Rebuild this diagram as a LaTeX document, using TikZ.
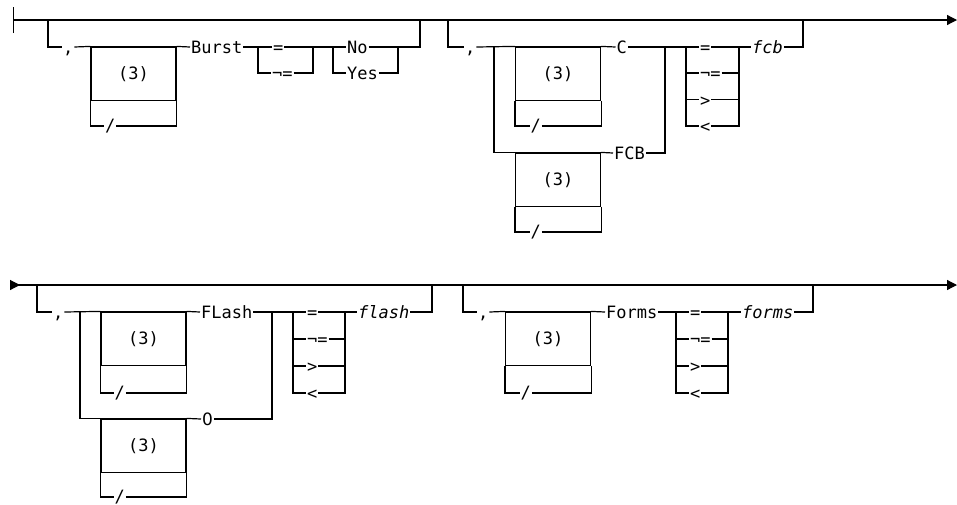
\documentclass[tikz,border=0pt]{standalone}
\usepackage{fontspec}
\setmonofont{DejaVu Sans Mono}
\newfontfamily\plainzero{DejaVu Sans}
\usetikzlibrary{arrows.meta}

\tikzset{
    rail/.style={line width=1.2pt},
    lbl/.style={anchor=west, inner sep=0.5pt, text height=13pt, text depth=0pt,
        font=\ttfamily\fontsize{17}{17}\selectfont},
    sep/.style={lbl, text height=11pt},
    var/.style={lbl, font=\ttfamily\itshape\fontsize{17}{17}\selectfont},
    rep/.style={draw, line width=1.2pt, minimum width=85pt, minimum height=53.5pt,
        inner sep=0pt, font=\ttfamily\fontsize{17}{17}\selectfont}
}

\begin{document}
\begin{tikzpicture}[x=1pt, y=-1pt, rail]
    \useasboundingbox (0,0) rectangle (957,504);
    % first line
    \coordinate (start1) at (13,20);
    \coordinate (end1) at (957,20);
    \draw[{Bar[width=26pt]}-{Triangle[length=10pt,width=10pt]}] (start1) -- (end1);

    % Burst
    \coordinate (in1) at (48,20);
    \coordinate (out1) at (420,20);
    \node[lbl] (cm1) at (62,47) {,};
    \node[rep] (rep1) at (133.5,73.75) {(3)};
    \node[sep] (sl1) at (104,126) {/};
    \node[lbl] (burst) at (190,47) {Burst};
    \coordinate (eq1l) at (258,47);
    \coordinate (eq1r) at (313,47);
    \node[lbl] (eq1) at (272,47) {=};
    \node[lbl] (ne1) at (271,73) {¬=};
    \coordinate (yn1l) at (333,47);
    \coordinate (yn1r) at (398,47);
    \node[lbl] (no) at (346,47) {No};
    \node[lbl] (yes) at (346,73) {Yes};
    \draw (in1) |- (cm1.west);
    \draw (cm1.east) -- (rep1.north west);
    \draw (rep1.south west) |- (sl1.west);
    \draw (sl1.east) -| (rep1.south east);
    \draw (rep1.north east) -- (burst.west);
    \draw (burst.east) -- (eq1.west);
    \draw (eq1.east) -- (no.west);
    \draw (eq1l) |- (ne1.west);
    \draw (ne1.east) -| (eq1r);
    \draw (yn1l) |- (yes.west);
    \draw (yes.east) -| (yn1r);
    \draw (no.east) -| (out1);

    % C / FCB
    \coordinate (in2) at (448,20);
    \coordinate (out2) at (803,20);
    \node[lbl] (cm2) at (464,47) {,};
    \coordinate (cf2l) at (494,47);
    \coordinate (cf2r) at (665,47);
    \node[rep] (rep2) at (558,73.75) {(3)};
    \node[sep] (sl2) at (529.5,126) {/};
    \node[lbl] (c) at (615.5,47) {C};
    \node[rep] (rep3) at (558,179.75) {(3)};
    \node[sep] (sl3) at (529.5,232) {/};
    \node[lbl] (fcbkw) at (613,153) {FCB};
    \coordinate (op2l) at (686,47);
    \coordinate (op2r) at (739,47);
    \node[lbl] (eq2) at (699,47) {=};
    \node[lbl] (ne2) at (699,73) {¬=};
    \node[lbl] (gt2) at (699,99.5) {>};
    \node[lbl] (lt2) at (699,126) {<};
    \node[var] (fcb) at (751,47) {fcb};
    \draw (in2) |- (cm2.west);
    \draw (cm2.east) -- (rep2.north west);
    \draw (rep2.south west) |- (sl2.west);
    \draw (sl2.east) -| (rep2.south east);
    \draw (rep2.north east) -- (c.west);
    \draw (c.east) -- (eq2.west);
    \draw (cf2l) |- (rep3.north west);
    \draw (rep3.south west) |- (sl3.west);
    \draw (sl3.east) -| (rep3.south east);
    \draw (rep3.north east) -- (fcbkw.west);
    \draw (fcbkw.east) -| (cf2r);
    \draw (op2l) |- (lt2.west);
    \draw (ne2.west -| op2l) -- (ne2.west);
    \draw (gt2.west -| op2l) -- (gt2.west);
    \draw (lt2.east) -| (op2r);
    \draw (ne2.east) -- (ne2.east -| op2r);
    \draw (gt2.east) -- (gt2.east -| op2r);
    \draw (eq2.east) -- (fcb.west);
    \draw (fcb.east) -| (out2);

    % second line
    \coordinate (start2) at (10,285);
    \coordinate (end2) at (957,285);
    \draw[{Triangle[reversed,length=10pt,width=10pt]}-{Triangle[length=10pt,width=10pt]}] (start2) -- (end2);

    % FLash / 0
    \coordinate (in3) at (37,285);
    \coordinate (out3) at (432,285);
    \node[lbl] (cm3) at (52,312) {,};
    \coordinate (fl3l) at (80,312);
    \coordinate (fl3r) at (272,312);
    \node[rep] (rep4) at (143.5,338.75) {(3)};
    \node[sep] (sl4) at (113.5,393) {/};
    \node[lbl] (flashkw) at (200,312) {FLash};
    \node[rep] (rep5) at (143.5,445.75) {(3)};
    \node[sep] (sl5) at (113.5,497) {/};
    \node[lbl] (zero) at (201,419) {\plainzero 0};
    \coordinate (op3l) at (293,312);
    \coordinate (op3r) at (345,312);
    \node[lbl] (eq3) at (306,312) {=};
    \node[lbl] (ne3) at (306,339) {¬=};
    \node[lbl] (gt3) at (306,366) {>};
    \node[lbl] (lt3) at (306,393) {<};
    \node[var] (flash) at (357,312) {flash};
    \draw (in3) |- (cm3.west);
    \draw (cm3.east) -- (rep4.north west);
    \draw (rep4.south west) |- (sl4.west);
    \draw (sl4.east) -| (rep4.south east);
    \draw (rep4.north east) -- (flashkw.west);
    \draw (flashkw.east) -- (eq3.west);
    \draw (fl3l) |- (rep5.north west);
    \draw (rep5.south west) |- (sl5.west);
    \draw (sl5.east) -| (rep5.south east);
    \draw (rep5.north east) -- (zero.west);
    \draw (zero.east) -| (fl3r);
    \draw (op3l) |- (lt3.west);
    \draw (ne3.west -| op3l) -- (ne3.west);
    \draw (gt3.west -| op3l) -- (gt3.west);
    \draw (lt3.east) -| (op3r);
    \draw (ne3.east) -- (ne3.east -| op3r);
    \draw (gt3.east) -- (gt3.east -| op3r);
    \draw (eq3.east) -- (flash.west);
    \draw (flash.east) -| (out3);

    % Forms
    \coordinate (in4) at (463,285);
    \coordinate (out4) at (813,285);
    \node[lbl] (cm4) at (477,312) {,};
    \node[rep] (rep6) at (548,338.75) {(3)};
    \node[sep] (sl6) at (519.5,393) {/};
    \node[lbl] (formskw) at (605,312) {Forms};
    \coordinate (op4l) at (676,312);
    \coordinate (op4r) at (728,312);
    \node[lbl] (eq4) at (689,312) {=};
    \node[lbl] (ne4) at (689,339) {¬=};
    \node[lbl] (gt4) at (689,366) {>};
    \node[lbl] (lt4) at (689,393) {<};
    \node[var] (forms) at (741,312) {forms};
    \draw (in4) |- (cm4.west);
    \draw (cm4.east) -- (rep6.north west);
    \draw (rep6.south west) |- (sl6.west);
    \draw (sl6.east) -| (rep6.south east);
    \draw (rep6.north east) -- (formskw.west);
    \draw (formskw.east) -- (eq4.west);
    \draw (op4l) |- (lt4.west);
    \draw (ne4.west -| op4l) -- (ne4.west);
    \draw (gt4.west -| op4l) -- (gt4.west);
    \draw (lt4.east) -| (op4r);
    \draw (ne4.east) -- (ne4.east -| op4r);
    \draw (gt4.east) -- (gt4.east -| op4r);
    \draw (eq4.east) -- (forms.west);
    \draw (forms.east) -| (out4);
\end{tikzpicture}
\end{document}
